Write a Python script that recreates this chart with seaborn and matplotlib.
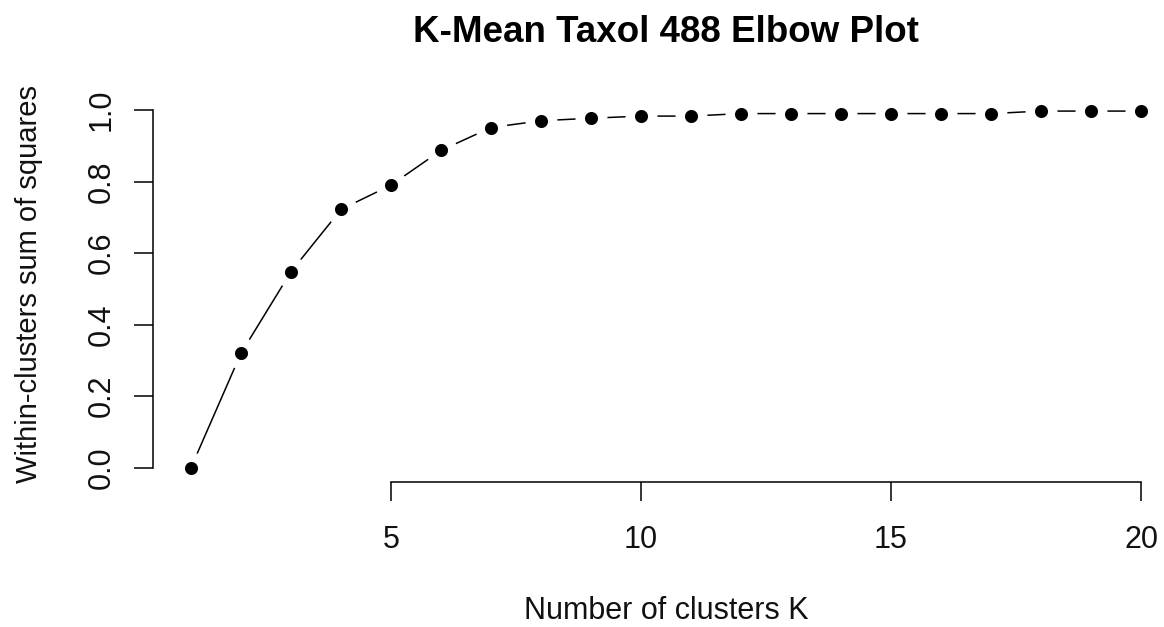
import matplotlib
matplotlib.use("Agg")
import matplotlib.pyplot as plt
import seaborn as sns
import pandas as pd

# ---- data ----
k_values = list(range(1, 21))
wss_ratio = [0.000, 0.320, 0.548, 0.722, 0.790, 0.887, 0.951, 0.970, 0.977, 0.983,
             0.983, 0.990, 0.990, 0.990, 0.990, 0.990, 0.990, 0.997, 0.997, 0.997]
x_ticks = [5, 10, 15, 20]
y_ticks = [0.0, 0.2, 0.4, 0.6, 0.8, 1.0]
y_tick_labels = ["0.0", "0.2", "0.4", "0.6", "0.8", "1.0"]
title = "K-Mean Taxol 488 Elbow Plot"
x_label = "Number of clusters K"
y_label = "Within-clusters sum of squares"

df = pd.DataFrame({"k": k_values, "wss": wss_ratio})

sns.set_theme(style="white")
plt.rcParams["font.family"] = ["Liberation Sans", "DejaVu Sans"]

fig = plt.figure(figsize=(11.64, 6.27), dpi=100)
ax = fig.add_axes([153 / 1164, 1 - 482 / 627, 1026 / 1164, 386.3 / 627])

sns.lineplot(data=df, x="k", y="wss", ax=ax, color="black", linewidth=1.1,
             marker="o", markersize=16.2, markerfacecolor="black",
             markeredgecolor="white", markeredgewidth=6.8, clip_on=False)

ax.set_xlim(0.24, 20.76)
ax.set_ylim(-0.04, 1.04)

for s in ["top", "right"]:
    ax.spines[s].set_visible(False)
ax.spines["left"].set_bounds(0, 1)
ax.spines["bottom"].set_bounds(5, 20)
for s in ["left", "bottom"]:
    ax.spines[s].set_color("black")
    ax.spines[s].set_linewidth(1.1)

ax.set_xticks(x_ticks)
ax.set_xticklabels([str(t) for t in x_ticks])
ax.set_yticks(y_ticks)
ax.set_yticklabels(y_tick_labels, rotation=90, va="center")
ax.tick_params(axis="both", which="major", direction="out", length=14, width=1.1,
               color="black", labelsize=22, labelcolor="#111111",
               bottom=True, left=True)
ax.tick_params(axis="x", pad=17)
ax.tick_params(axis="y", pad=12)

ax.set_xlabel(x_label, fontsize=22, color="#111111", va="baseline")
ax.xaxis.set_label_coords(0.5, (482 - 619) / 386.3)
ax.set_ylabel(y_label, fontsize=21, color="#111111", va="baseline")
ax.yaxis.set_label_coords((37.0 - 153) / 1026, (482 - 284) / 386.3)

ax.set_title(title, fontsize=26.5, fontweight="bold", y=(482 - 42) / 386.3,
             va="baseline", pad=0, color="black")

fig.savefig("out.png", dpi=100)
